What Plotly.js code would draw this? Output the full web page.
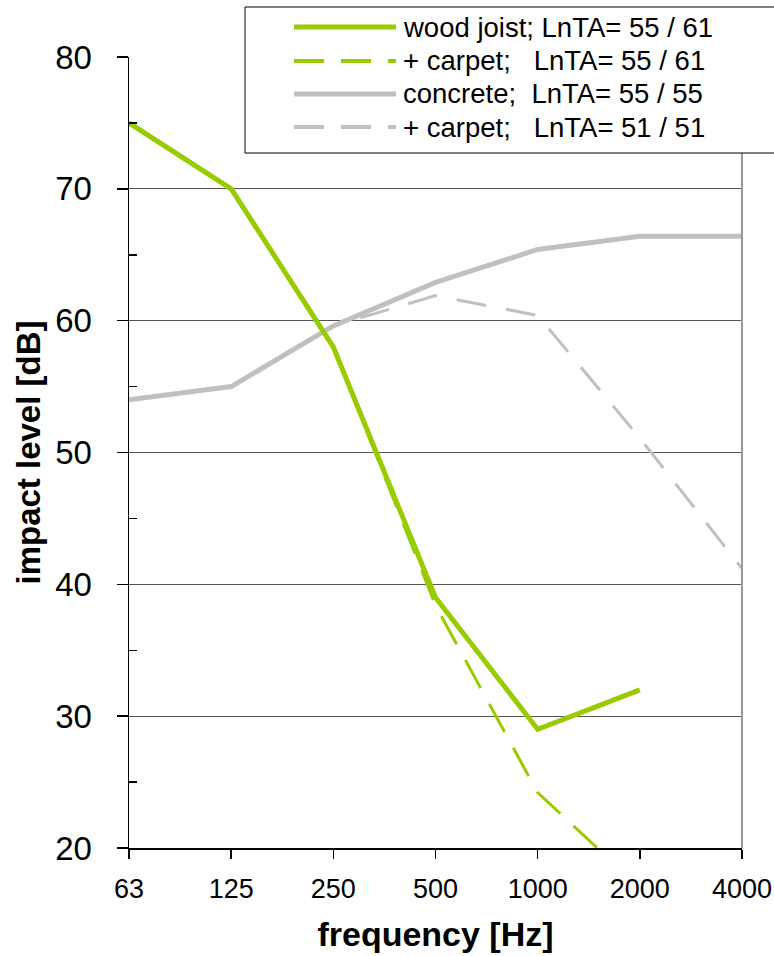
<!DOCTYPE html>
<html>
<head>
<meta charset="utf-8">
<script src="https://cdn.plot.ly/plotly-3.0.1.min.js"></script>
<style>html,body{margin:0;padding:0;background:#fff;}#chart{width:774px;height:956px;}</style>
</head>
<body>
<div id="chart"></div>
<script>
const freqs = ['63', '125', '250', '500', '1000', '2000', '4000'];
const woodJoist = [75, 70, 58, 39, 29, 32, null];
const woodCarpet = [75, 70, 58, 38.4, 24.2, 17, null];
const concrete = [54, 55, 59.6, 62.9, 65.4, 66.4, 66.4];
const concreteCarpet = [54, 55, 59.6, 61.9, 60.4, 51.1, 41.2];
const legendLabels = [
  'wood joist; LnTA= 55 / 61',
  '+ carpet;\u00a0\u00a0 LnTA= 55 / 61',
  'concrete;\u00a0 LnTA= 55 / 55',
  '+ carpet;\u00a0\u00a0 LnTA= 51 / 51'
];
const GREEN = '#99CC00', GRAY = '#C0C0C0';
const FONT = 'Liberation Sans, Arial, sans-serif';

const styles = [
  {color: GREEN, width: 5, dash: 'solid'},
  {color: GREEN, width: 3, dash: '32px,18px'},
  {color: GRAY, width: 5, dash: 'solid'},
  {color: GRAY, width: 3, dash: '30px,20px'}
];
const series = [woodJoist, woodCarpet, concrete, concreteCarpet];
const order = [3, 2, 1, 0];
const traces = order.map(i => ({
  x: freqs, y: series[i], type: 'scatter', mode: 'lines',
  line: styles[i], name: legendLabels[i], showlegend: false,
  connectgaps: false, hoverinfo: 'skip'
}));

const L = 129, R = 742, T = 57, B = 848;
const W = R - L, H = B - T;
const px = v => (v - L) / W;
const py = v => (B - v) / H;

const shapes = [
  {type: 'line', xref: 'paper', yref: 'paper', x0: 1, x1: 1, y0: 0, y1: 1, line: {color: '#999999', width: 2}, layer: 'above'},
  {type: 'rect', xref: 'paper', yref: 'paper', x0: px(245), x1: px(776), y0: py(153), y1: py(7), line: {color: '#000', width: 1}, fillcolor: '#fff', layer: 'above'}
];
const rowY = [27, 61, 94, 127];
const annotations = [];
rowY.forEach((y, i) => {
  shapes.push({type: 'line', xref: 'paper', yref: 'paper', x0: px(294), x1: px(396), y0: py(y), y1: py(y),
    line: {color: styles[i].color, width: i % 2 === 0 ? 5 : 4, dash: i % 2 === 0 ? 'solid' : '30px,17px'}, layer: 'above'});
  annotations.push({xref: 'paper', yref: 'paper', x: px(401), y: py(y), xanchor: 'left', yanchor: 'middle',
    text: legendLabels[i], showarrow: false, font: {family: FONT, size: 27.5, color: '#000'}});
});

const layout = {
  width: 774, height: 956,
  margin: {l: L, r: 774 - R, t: T, b: 956 - B, pad: 0},
  paper_bgcolor: '#fff', plot_bgcolor: '#fff',
  showlegend: false,
  xaxis: {
    type: 'category', range: [0, 6], showgrid: false, zeroline: false,
    showline: true, linecolor: '#000', linewidth: 1.5,
    ticks: 'outside', ticklen: 9, tickwidth: 1.5, tickcolor: '#000',
    tickfont: {family: FONT, size: 27, color: '#000'},
    ticklabelstandoff: 7,
    title: {text: '<b>frequency [Hz]</b>', font: {family: FONT, size: 34, color: '#000'}, standoff: 19}
  },
  yaxis: {
    range: [20, 80], tickvals: [20, 30, 40, 50, 60, 70, 80],
    showgrid: true, gridcolor: '#555', gridwidth: 1, zeroline: false,
    showline: true, linecolor: '#000', linewidth: 1.5,
    ticks: 'outside', ticklen: 11, tickwidth: 1.5, tickcolor: '#000',
    minor: {tickvals: [25, 35, 45, 55, 65, 75], ticks: 'inside', ticklen: 8, tickwidth: 1.5, tickcolor: '#000', showgrid: false},
    tickfont: {family: FONT, size: 33, color: '#000'},
    ticklabelstandoff: 18,
    title: {text: '<b>impact level [dB]</b>', font: {family: FONT, size: 33, color: '#000'}, standoff: 4}
  },
  shapes: shapes,
  annotations: annotations
};

Plotly.newPlot('chart', traces, layout, {displayModeBar: false, staticPlot: true});
</script>
</body>
</html>
